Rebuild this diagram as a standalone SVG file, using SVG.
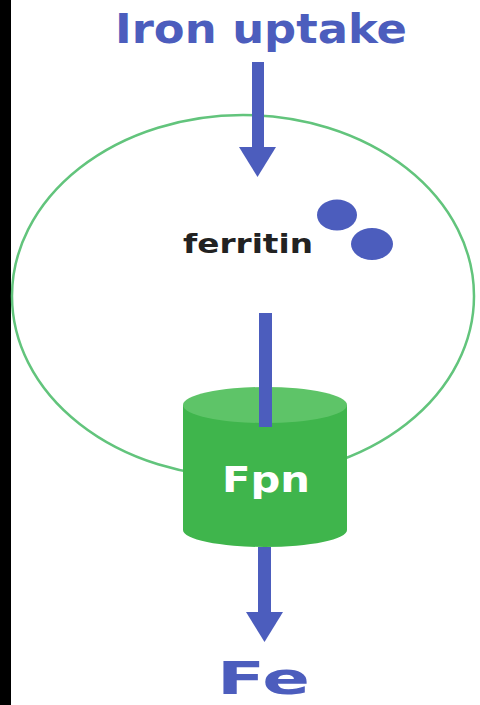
<svg xmlns="http://www.w3.org/2000/svg" width="480" height="705" viewBox="0 0 480 705">
<style>
.blue{fill:#4c5dbd}
.lbl{font-family:"DejaVu Sans","Verdana",sans-serif;font-weight:bold}
</style>
<rect x="0" y="0" width="480" height="705" fill="#ffffff"/>
<rect x="0" y="0" width="11" height="705" fill="#000000"/>
<g id="cell">
<ellipse cx="243" cy="296" rx="231" ry="181" fill="none" stroke="#62c47c" stroke-width="2.5"/>
</g>
<g id="iron-uptake">
<text class="lbl blue" x="115" y="43" font-size="40" textLength="292" lengthAdjust="spacingAndGlyphs">Iron uptake</text>
</g>
<g id="ferritin">
<text class="lbl" x="183" y="253" font-size="27" fill="#222222" textLength="130" lengthAdjust="spacingAndGlyphs">ferritin</text>
<ellipse class="blue" cx="337" cy="215" rx="20" ry="15.5"/>
<ellipse class="blue" cx="372" cy="244" rx="21" ry="16"/>
</g>
<g id="fpn">
<path d="M183,405 L183,530 A82,17 0 0 0 347,530 L347,405 Z" fill="#3fb54c"/>
<ellipse cx="265" cy="405" rx="82" ry="18" fill="#5ec468"/>
<text class="lbl" x="222" y="492" font-size="35" fill="#ffffff" textLength="88" lengthAdjust="spacingAndGlyphs">Fpn</text>
</g>
<g id="connectors">
<rect class="blue" x="252" y="62" width="12" height="86"/>
<polygon class="blue" points="239,147 276,147 257.5,177"/>
<rect class="blue" x="259" y="313" width="13" height="114"/>
<rect class="blue" x="258" y="547" width="13" height="66"/>
<polygon class="blue" points="246,612 283,612 264.5,642"/>
</g>
<g id="fe">
<text class="lbl blue" x="217" y="694" font-size="45" textLength="93" lengthAdjust="spacingAndGlyphs">Fe</text>
</g>
</svg>
